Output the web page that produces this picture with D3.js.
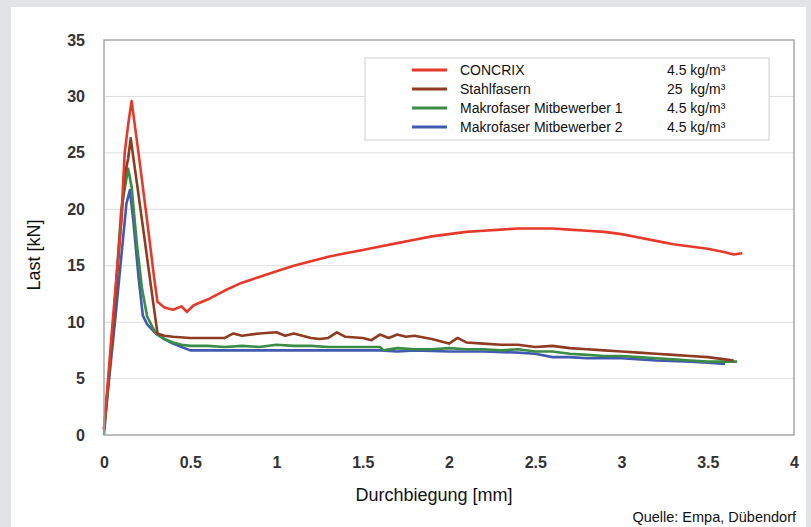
<!DOCTYPE html>
<html><head><meta charset="utf-8">
<script src="https://cdn.jsdelivr.net/npm/d3@7"></script>
<style>
body{margin:0;background:#e2e3e5;}
svg{display:block;font-family:"Liberation Sans",Arial,sans-serif;}
</style></head><body>
<svg id="c" width="811" height="527"></svg>
<script>
const xTicks = [0,0.5,1,1.5,2,2.5,3,3.5,4];
const yTicks = [0,5,10,15,20,25,30,35];
const seriesNames = ["CONCRIX","Stahlfasern","Makrofaser Mitbewerber 1","Makrofaser Mitbewerber 2"];
const seriesDose = ["4.5 kg/m³","25  kg/m³","4.5 kg/m³","4.5 kg/m³"];
const seriesColors = ["#e6392b","#8e3b22","#3a8c45","#4259b0"];

const concrix = [[0,0.5],[0.05,10],[0.1,19],[0.12,25],[0.14,27.5],[0.16,29.6],[0.2,25],[0.25,19],[0.29,14],[0.31,11.8],[0.35,11.3],[0.4,11.1],[0.45,11.4],[0.48,10.9],[0.52,11.5],[0.6,12.0],[0.7,12.8],[0.8,13.5],[0.9,14.0],[1.0,14.5],[1.1,15.0],[1.2,15.4],[1.3,15.8],[1.4,16.1],[1.5,16.4],[1.6,16.7],[1.7,17.0],[1.8,17.3],[1.9,17.6],[2.0,17.8],[2.1,18.0],[2.2,18.1],[2.3,18.2],[2.4,18.3],[2.5,18.3],[2.6,18.3],[2.7,18.2],[2.8,18.1],[2.9,18.0],[3.0,17.8],[3.1,17.5],[3.2,17.2],[3.3,16.9],[3.4,16.7],[3.5,16.5],[3.6,16.2],[3.65,16.0],[3.7,16.1]];
const stahl = [[0,0.5],[0.05,9],[0.1,19],[0.12,23],[0.14,24.5],[0.155,26.3],[0.17,24.6],[0.2,21.3],[0.25,15.7],[0.28,12.3],[0.31,9.0],[0.35,8.8],[0.4,8.7],[0.5,8.6],[0.6,8.6],[0.7,8.6],[0.75,9.0],[0.8,8.8],[0.9,9.0],[1.0,9.1],[1.05,8.8],[1.1,9.0],[1.2,8.6],[1.25,8.5],[1.3,8.6],[1.35,9.1],[1.4,8.7],[1.5,8.6],[1.55,8.4],[1.6,8.9],[1.65,8.6],[1.7,8.9],[1.75,8.7],[1.8,8.8],[1.9,8.5],[2.0,8.1],[2.05,8.6],[2.1,8.2],[2.2,8.1],[2.3,8.0],[2.4,8.0],[2.5,7.8],[2.6,7.9],[2.7,7.7],[2.8,7.6],[2.9,7.5],[3.0,7.4],[3.1,7.3],[3.2,7.2],[3.3,7.1],[3.4,7.0],[3.5,6.9],[3.6,6.7],[3.65,6.6]];
const mitbew1 = [[0,0],[0.05,9],[0.1,20],[0.14,23.6],[0.16,22],[0.19,17],[0.22,13],[0.25,10.5],[0.3,9.0],[0.35,8.5],[0.4,8.2],[0.45,8.0],[0.5,7.9],[0.6,7.9],[0.7,7.8],[0.8,7.9],[0.9,7.8],[1.0,8.0],[1.1,7.9],[1.2,7.9],[1.3,7.8],[1.4,7.8],[1.5,7.8],[1.6,7.8],[1.62,7.5],[1.7,7.7],[1.8,7.6],[1.9,7.6],[2.0,7.7],[2.1,7.6],[2.2,7.6],[2.3,7.5],[2.4,7.6],[2.5,7.4],[2.6,7.4],[2.7,7.2],[2.8,7.1],[2.9,7.0],[3.0,7.0],[3.1,6.9],[3.2,6.8],[3.3,6.7],[3.4,6.6],[3.5,6.5],[3.6,6.5],[3.67,6.5]];
const mitbew2 = [[0,0.5],[0.07,11],[0.13,20.5],[0.15,21.7],[0.17,19],[0.2,14],[0.225,10.6],[0.25,9.8],[0.3,9.0],[0.35,8.5],[0.4,8.1],[0.45,7.8],[0.5,7.5],[0.6,7.5],[0.8,7.5],[1.0,7.5],[1.2,7.5],[1.4,7.5],[1.6,7.5],[1.7,7.4],[1.8,7.5],[2.0,7.4],[2.2,7.4],[2.4,7.3],[2.5,7.2],[2.6,6.9],[2.7,6.9],[2.8,6.8],[3.0,6.8],[3.2,6.6],[3.4,6.5],[3.5,6.4],[3.6,6.3]];
const allSeries = [concrix, stahl, mitbew1, mitbew2];

const svg = d3.select("#c");
svg.append("rect").attr("x",11).attr("y",7).attr("width",795).attr("height",530).attr("fill","#fff");

const L=104, R=794, T=40, B=435;
const x = d3.scaleLinear().domain([0,4]).range([L,R]);
const y = d3.scaleLinear().domain([0,35]).range([B,T]);
const FF = "'Liberation Sans',Arial,sans-serif";

// grid
svg.append("g").selectAll("line").data(yTicks.filter(d=>d>0&&d<35)).join("line")
  .attr("x1",L).attr("x2",R).attr("y1",d=>y(d)).attr("y2",d=>y(d))
  .attr("stroke","#dcdcdc").attr("stroke-width",1);

// axes (labels only)
const gx = svg.append("g").attr("transform",`translate(0,${B+19})`)
  .call(d3.axisBottom(x).tickValues(xTicks).tickSize(0).tickFormat(d3.format("~g")));
gx.select(".domain").remove();
gx.selectAll("text").attr("font-size",16).attr("font-weight","bold").attr("fill","#333").attr("font-family",FF);
const gy = svg.append("g").attr("transform",`translate(${L-16},0)`)
  .call(d3.axisLeft(y).tickValues(yTicks).tickSize(0));
gy.select(".domain").remove();
gy.selectAll("text").attr("font-size",16).attr("font-weight","bold").attr("fill","#333").attr("font-family",FF);

// lines
const line = d3.line().x(d=>x(d[0])).y(d=>y(d[1]));
[3,2,1,0].forEach(i=>{
  svg.append("path").datum(allSeries[i]).attr("d",line)
    .attr("fill","none").attr("stroke",seriesColors[i]).attr("stroke-width",2.6)
    .attr("stroke-linejoin","round");
});

// frame
svg.append("rect").attr("x",L).attr("y",T).attr("width",R-L).attr("height",B-T)
  .attr("fill","none").attr("stroke","#a8a8a8").attr("stroke-width",1.5);

// legend
const lg = svg.append("g");
lg.append("rect").attr("x",365).attr("y",58).attr("width",404).attr("height",82)
  .attr("fill","#fff").attr("stroke","#cfcfcf").attr("stroke-width",1);
seriesNames.forEach((n,i)=>{
  const yy = 70 + i*19;
  lg.append("line").attr("x1",412).attr("x2",447).attr("y1",yy).attr("y2",yy)
    .attr("stroke",seriesColors[i]).attr("stroke-width",3);
  lg.append("text").attr("x",460).attr("y",yy+5).attr("font-size",14).attr("fill","#111").text(n);
  lg.append("text").attr("x",667).attr("y",yy+5).attr("font-size",14).attr("fill","#111")
    .style("white-space","pre").text(seriesDose[i]);
});

// titles
svg.append("text").attr("x",434).attr("y",501).attr("text-anchor","middle")
  .attr("font-size",18).attr("fill","#111").text("Durchbiegung [mm]");
svg.append("text").attr("transform","translate(40,255) rotate(-90)").attr("text-anchor","middle")
  .attr("font-size",18).attr("fill","#111").text("Last [kN]");
svg.append("text").attr("x",796).attr("y",522).attr("text-anchor","end")
  .attr("font-size",14.5).attr("fill","#111").text("Quelle: Empa, Dübendorf");
</script></body></html>
